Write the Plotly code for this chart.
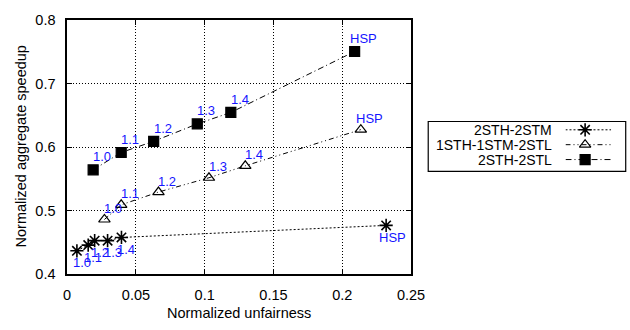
import plotly.graph_objects as go

W, H = 630, 330
L, R, T, B = 65, 419, 13, 280

series_names = ["2STH-2STM", "1STH-1STM-2STL", "2STH-2STL"]
point_labels = ["1.0", "1.1", "1.2", "1.3", "1.4", "HSP"]

stm_x = [0.0071, 0.0153, 0.0200, 0.0294, 0.0395, 0.2319]
stm_y = [0.4372, 0.4462, 0.4532, 0.4532, 0.4582, 0.4772]

mix_x = [0.0271, 0.0393, 0.0664, 0.1031, 0.1295, 0.2135]
mix_y = [0.4865, 0.5096, 0.5297, 0.5522, 0.5710, 0.6280]

stl_x = [0.0189, 0.0393, 0.0629, 0.0946, 0.1190, 0.2090]
stl_y = [0.5646, 0.5920, 0.6096, 0.6370, 0.6550, 0.7510]

x_ticks = [0, 0.05, 0.1, 0.15, 0.2, 0.25]
x_tick_text = ["0", "0.05", "0.1", "0.15", "0.2", "0.25"]
y_ticks = [0.4, 0.5, 0.6, 0.7, 0.8]
y_tick_text = ["0.4", "0.5", "0.6", "0.7", "0.8"]

FONT = "Liberation Sans, Arial, Helvetica, sans-serif"
BLUE = "#1515ff"
FS = 14.5
LEGFS = 14
LFS = 13

styles = [
    dict(dash="2px,2px", symbol="asterisk-open", size=11, lw=1.6, lab=(5, -12), hsp=(6, -12)),
    dict(dash="5px,3px,1px,3px,1px,3px", symbol="triangle-up-open", size=10, lw=1.2, lab=(9, 11), hsp=(9, 11)),
    dict(dash="6px,3px,1px,3px", symbol="square", size=10, lw=1.2, lab=(9, 13), hsp=(9, 13)),
]
data = [(stm_x, stm_y), (mix_x, mix_y), (stl_x, stl_y)]

fig = go.Figure()
annotations = []
for name, (xs, ys), st in zip(series_names, data, styles):
    fig.add_trace(go.Scatter(
        x=xs, y=ys, mode="lines+markers", name=name, showlegend=False,
        line=dict(color="black", width=1, dash=st["dash"]),
        marker=dict(symbol=st["symbol"], size=st["size"], color="black",
                    line=dict(color="black", width=st["lw"])),
        cliponaxis=False,
    ))
    for xv, yv, lab in zip(xs, ys, point_labels):
        dx, dy = st["hsp"] if lab == "HSP" else st["lab"]
        annotations.append(dict(x=xv, y=yv, xref="x", yref="y", text=lab, showarrow=False,
                                xshift=dx, yshift=dy, font=dict(color=BLUE, size=LFS, family=FONT)))

# legend samples on a hidden helper axis
LEG_TOP, ROW = 120.2, 15.63
leg_rows = [2.5, 1.5, 0.5]
for name, st, ry in zip(series_names, styles, leg_rows):
    fig.add_trace(go.Scatter(x=[0, 1], y=[ry, ry], mode="lines", xaxis="x2", yaxis="y2",
                             showlegend=False, line=dict(color="black", width=1, dash=st["dash"]),
                             hoverinfo="skip"))
    fig.add_trace(go.Scatter(x=[0.43], y=[ry], mode="markers", xaxis="x2", yaxis="y2",
                             showlegend=False,
                             marker=dict(symbol=st["symbol"], size=st["size"], color="black",
                                         line=dict(color="black", width=st["lw"])),
                             hoverinfo="skip"))
    annotations.append(dict(x=566 / W, y=1 - (LEG_TOP + (3 - ry) * ROW) / H, xref="paper", yref="paper",
                            text=name, showarrow=False, xanchor="right", yanchor="middle",
                            font=dict(size=LEGFS, color="black", family=FONT)))

annotations.append(dict(x=(L + R) / 2 / W, y=1 - 321 / H, xref="paper", yref="paper",
                        text="Normalized unfairness", showarrow=False, xanchor="center", yanchor="middle",
                        font=dict(size=FS, color="black", family=FONT)))
annotations.append(dict(x=17 / W, y=1 - 146 / H, xref="paper", yref="paper",
                        text="Normalized aggregate speedup", showarrow=False, textangle=-90,
                        xanchor="center", yanchor="middle",
                        font=dict(size=FS, color="black", family=FONT)))

shapes = [dict(type="rect", xref="paper", yref="paper",
               x0=436.7 / W, x1=640 / W, y0=1 - 171.7 / H, y1=1 - 119.3 / H,
               line=dict(color="black", width=1.2), fillcolor="rgba(0,0,0,0)")]

axis_common = dict(showline=True, mirror="ticks", linecolor="black", linewidth=1.5,
                   ticks="inside", ticklen=5, tickcolor="black", tickwidth=1,
                   showgrid=True, gridcolor="black", griddash="1px,2px", gridwidth=1,
                   zeroline=False, tickfont=dict(size=FS, color="black", family=FONT))

fig.update_layout(
    width=W, height=H,
    margin=dict(l=0, r=0, t=0, b=0),
    paper_bgcolor="white", plot_bgcolor="white",
    xaxis=dict(domain=[L / W, R / W], range=[0, 0.25], tickvals=x_ticks, ticktext=x_tick_text,
               ticklabelstandoff=6, **axis_common),
    yaxis=dict(domain=[1 - B / H, 1 - T / H], range=[0.4, 0.8], tickvals=y_ticks, ticktext=y_tick_text,
               ticklabelstandoff=7, **axis_common),
    xaxis2=dict(domain=[578 / W, 625 / W], range=[0, 1], visible=False, anchor="y2", fixedrange=True),
    yaxis2=dict(domain=[1 - (LEG_TOP + 3 * ROW) / H, 1 - LEG_TOP / H], range=[0, 3], visible=False,
                anchor="x2", fixedrange=True),
    annotations=annotations,
    shapes=shapes,
    font=dict(family=FONT, color="black"),
    showlegend=False,
)

fig.write_html("out.html")
